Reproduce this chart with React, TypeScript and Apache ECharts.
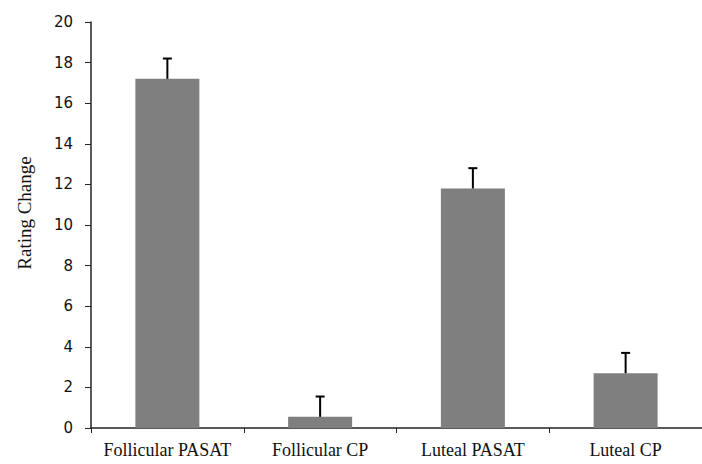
import React, { useEffect, useRef } from "react";
import * as echarts from "echarts";

const categories = ["Follicular PASAT", "Follicular CP", "Luteal PASAT", "Luteal CP"];
const values = [17.2, 0.55, 11.8, 2.7];
const errors = [1.0, 1.0, 1.0, 1.0];
const yTicks = { min: 0, max: 20, interval: 2 };

export default function App() {
  const ref = useRef<HTMLDivElement>(null);
  useEffect(() => {
    document.body.style.margin = "0";
    const chart = echarts.init(ref.current!, null, { renderer: "svg" });
    const errData = values.map((v, i) => [i, v, v + errors[i]]);
    chart.setOption({
      animation: false,
      backgroundColor: "#ffffff",
      grid: { left: 91, top: 22, bottom: 36, width: 616 },
      xAxis: {
        type: "category",
        data: categories,
        axisLine: { show: true, lineStyle: { color: "#222", width: 1.5 } },
        axisTick: { show: true, alignWithLabel: false, length: 5, lineStyle: { color: "#222" } },
        axisLabel: {
          color: "#111",
          fontFamily: "Liberation Serif, Times New Roman, serif",
          fontSize: 18,
          margin: 13,
          interval: 0,
        },
        splitLine: { show: false },
      },
      yAxis: {
        type: "value",
        min: yTicks.min,
        max: yTicks.max,
        interval: yTicks.interval,
        name: "Rating Change",
        nameLocation: "middle",
        nameRotate: 90,
        nameGap: 57,
        nameTextStyle: {
          color: "#111",
          fontFamily: "Liberation Serif, Times New Roman, serif",
          fontSize: 19,
          padding: [0, 0, 0, 24],
        },
        axisLine: { show: true, lineStyle: { color: "#222", width: 1.5 } },
        axisTick: { show: true, inside: false, length: 6, lineStyle: { color: "#222" } },
        axisLabel: {
          color: "#111",
          fontFamily: "DejaVu Sans, sans-serif",
          fontSize: 15,
          margin: 18,
        },
        splitLine: { show: false },
      },
      series: [
        {
          type: "bar",
          data: values,
          barWidth: 64,
          itemStyle: { color: "#7f7f7f" },
          z: 2,
        },
        {
          type: "custom",
          data: errData,
          z: 3,
          renderItem: (params: any, api: any) => {
            const i = api.value(0);
            const base = api.coord([i, api.value(1)]);
            const top = api.coord([i, api.value(2)]);
            const cap = 4.5;
            return {
              type: "group",
              children: [
                {
                  type: "line",
                  shape: { x1: base[0], y1: base[1], x2: top[0], y2: top[1] },
                  style: { stroke: "#000", lineWidth: 2 },
                },
                {
                  type: "line",
                  shape: { x1: top[0] - cap, y1: top[1], x2: top[0] + cap, y2: top[1] },
                  style: { stroke: "#000", lineWidth: 2 },
                },
              ],
            };
          },
        },
      ],
    });
    return () => chart.dispose();
  }, []);
  return <div ref={ref} style={{ width: 702, height: 464 }} />;
}
